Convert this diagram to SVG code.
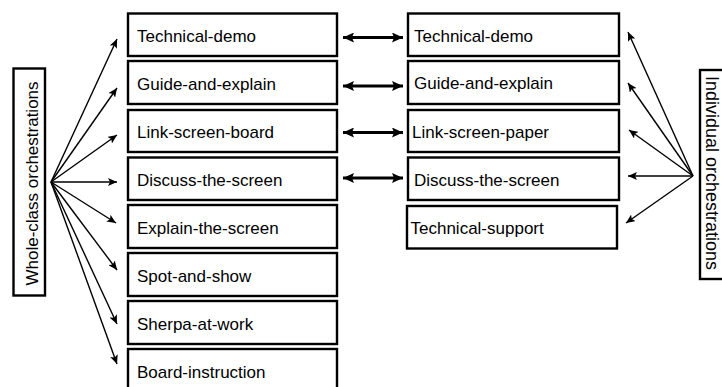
<svg xmlns="http://www.w3.org/2000/svg" width="722" height="387" viewBox="0 0 722 387">
<style>
.box{fill:#fff;stroke:#000;stroke-width:2.4}
.t{font-family:"Liberation Sans",Arial,sans-serif;font-size:17px;fill:#000}
.v{font-size:18px}
.fan{stroke:#000;stroke-width:1.4;fill:none;marker-end:url(#ah)}
.bi{stroke:#000;stroke-width:2.8;fill:none;marker-start:url(#bh);marker-end:url(#bh)}
</style>
<defs>
<marker id="ah" markerUnits="userSpaceOnUse" markerWidth="10" markerHeight="8" refX="9" refY="4" orient="auto">
<path d="M0,0 L9,4 L0,8 L2,4 Z" fill="#000"/>
</marker>
<marker id="bh" markerUnits="userSpaceOnUse" markerWidth="12" markerHeight="10" refX="11" refY="5" orient="auto-start-reverse">
<path d="M0,0 L11,5 L0,10 L2,5 Z" fill="#000"/>
</marker>
</defs>
<rect width="722" height="387" fill="#fff"/>
<g id="whole-class">
<rect class="box" x="13.5" y="68.5" width="31.5" height="227"/>
<text class="t" transform="translate(37.5,183.5) rotate(-90)" text-anchor="middle">Whole-class orchestrations</text>
</g>
<g id="individual">
<rect class="box" x="700" y="70" width="40" height="209"/>
<text class="t v" transform="translate(706,173) rotate(90)" text-anchor="middle">Individual orchestrations</text>
</g>
<g id="l1"><rect class="box" x="128" y="13.5" width="209" height="42.5"/><text class="t" x="137" y="42">Technical-demo</text></g>
<g id="l2"><rect class="box" x="128" y="61" width="209" height="43"/><text class="t" x="137" y="89.5">Guide-and-explain</text></g>
<g id="l3"><rect class="box" x="128" y="110" width="209" height="42"/><text class="t" x="137" y="138">Link-screen-board</text></g>
<g id="l4"><rect class="box" x="128" y="157.5" width="209" height="42.5"/><text class="t" x="137" y="186">Discuss-the-screen</text></g>
<g id="l5"><rect class="box" x="128" y="205" width="209" height="43"/><text class="t" x="137" y="233.5">Explain-the-screen</text></g>
<g id="l6"><rect class="box" x="128" y="253" width="209" height="43"/><text class="t" x="137" y="281.5">Spot-and-show</text></g>
<g id="l7"><rect class="box" x="128" y="301" width="209" height="43"/><text class="t" x="137" y="329.5">Sherpa-at-work</text></g>
<g id="l8"><rect class="box" x="128" y="349" width="209" height="43"/><text class="t" x="137" y="377.5">Board-instruction</text></g>
<g id="r1"><rect class="box" x="408" y="13.5" width="211" height="42.5"/><text class="t" x="414" y="41.5">Technical-demo</text></g>
<g id="r2"><rect class="box" x="408" y="61" width="211" height="43"/><text class="t" x="414" y="89">Guide-and-explain</text></g>
<g id="r3"><rect class="box" x="408" y="110" width="211" height="42"/><text class="t" x="412" y="137.5">Link-screen-paper</text></g>
<g id="r4"><rect class="box" x="408" y="157.5" width="211" height="42.5"/><text class="t" x="414" y="185.5">Discuss-the-screen</text></g>
<g id="r5"><rect class="box" x="407" y="206" width="210" height="42.5"/><text class="t" x="410.5" y="234">Technical-support</text></g>
<g id="connectors">
<line class="fan" x1="51" y1="182" x2="117" y2="39"/>
<line class="fan" x1="51" y1="182" x2="117" y2="88"/>
<line class="fan" x1="51" y1="182" x2="117" y2="135"/>
<line class="fan" x1="51" y1="182" x2="117" y2="182"/>
<line class="fan" x1="51" y1="182" x2="116" y2="223"/>
<line class="fan" x1="51" y1="182" x2="117" y2="270"/>
<line class="fan" x1="51" y1="182" x2="117" y2="324"/>
<line class="fan" x1="51" y1="182" x2="117" y2="364"/>
<line class="fan" x1="693" y1="176" x2="628" y2="32"/>
<line class="fan" x1="693" y1="176" x2="628" y2="83"/>
<line class="fan" x1="693" y1="176" x2="629" y2="130"/>
<line class="fan" x1="693" y1="176" x2="628" y2="176"/>
<line class="fan" x1="693" y1="176" x2="626" y2="223"/>
<line class="bi" x1="343" y1="37.5" x2="403" y2="37.5"/>
<line class="bi" x1="343" y1="86" x2="403" y2="86"/>
<line class="bi" x1="343" y1="132.5" x2="403" y2="132.5"/>
<line class="bi" x1="343" y1="178" x2="403" y2="178"/>
</g>
</svg>
